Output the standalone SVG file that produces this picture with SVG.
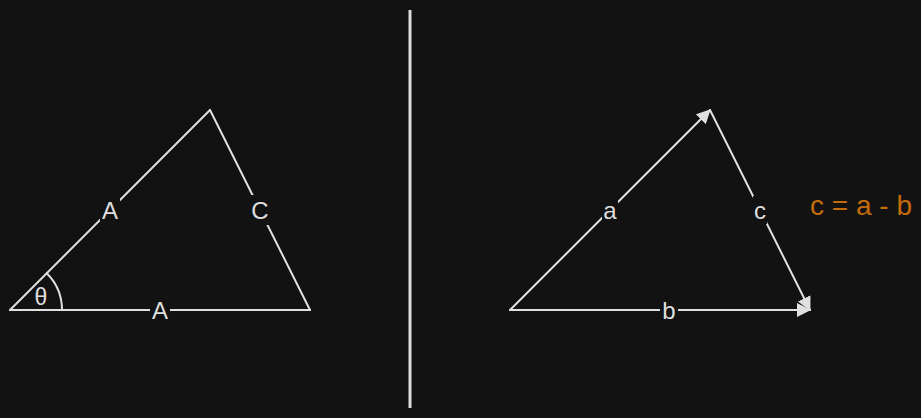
<svg xmlns="http://www.w3.org/2000/svg" width="921" height="418" viewBox="0 0 921 418">
<defs>
<style>
.ln{stroke:#e0e0e0;stroke-width:2;fill:none;stroke-linecap:round}
.gap{fill:#121212}
.lbl{font-family:"Liberation Sans",Arial,sans-serif;font-size:24px;fill:#dedede;text-anchor:middle}
</style>
<marker id="ah" viewBox="0 0 14 14" refX="13" refY="7" markerWidth="14" markerHeight="14" markerUnits="userSpaceOnUse" orient="auto">
<path d="M0,0 L14,7 L0,14 Z" fill="#e0e0e0"/>
</marker>
</defs>
<rect width="921" height="418" fill="#121212"/>
<g id="connectors">
<line class="ln" x1="10" y1="310" x2="210" y2="110"/>
<line class="ln" x1="210" y1="110" x2="310" y2="310"/>
<line class="ln" x1="10" y1="310" x2="310" y2="310"/>
<path class="ln" d="M62,310 A52,52 0 0 0 46.8,273.2"/>
<line x1="410" y1="10" x2="410" y2="408" stroke="#dcdcdc" stroke-width="3"/>
<line class="ln" x1="510" y1="310" x2="710" y2="110" marker-end="url(#ah)"/>
<line class="ln" x1="710" y1="110" x2="810" y2="310" marker-end="url(#ah)"/>
<line class="ln" x1="510" y1="310" x2="810" y2="310" marker-end="url(#ah)"/>
</g>
<g id="labels-left">
<rect class="gap" x="100" y="196" width="20" height="28"/>
<text class="lbl" x="110" y="219">A</text>
<rect class="gap" x="249" y="195" width="22" height="30"/>
<text class="lbl" x="260" y="219">C</text>
<rect class="gap" x="150" y="296" width="20" height="28"/>
<text class="lbl" x="160" y="319">A</text>
<text class="lbl" x="41" y="305" style="font-size:23px">θ</text>
</g>
<g id="labels-right">
<rect class="gap" x="602" y="197" width="16" height="28"/>
<text class="lbl" x="610" y="219">a</text>
<rect class="gap" x="753" y="196" width="14" height="28"/>
<text class="lbl" x="760" y="219">c</text>
<rect class="gap" x="660" y="296" width="18" height="28"/>
<text class="lbl" x="669" y="319">b</text>
<text x="861" y="215" style="font-family:'Liberation Sans',Arial,sans-serif;font-size:28px;fill:#c46c0a;text-anchor:middle">c = a - b</text>
</g>
</svg>
